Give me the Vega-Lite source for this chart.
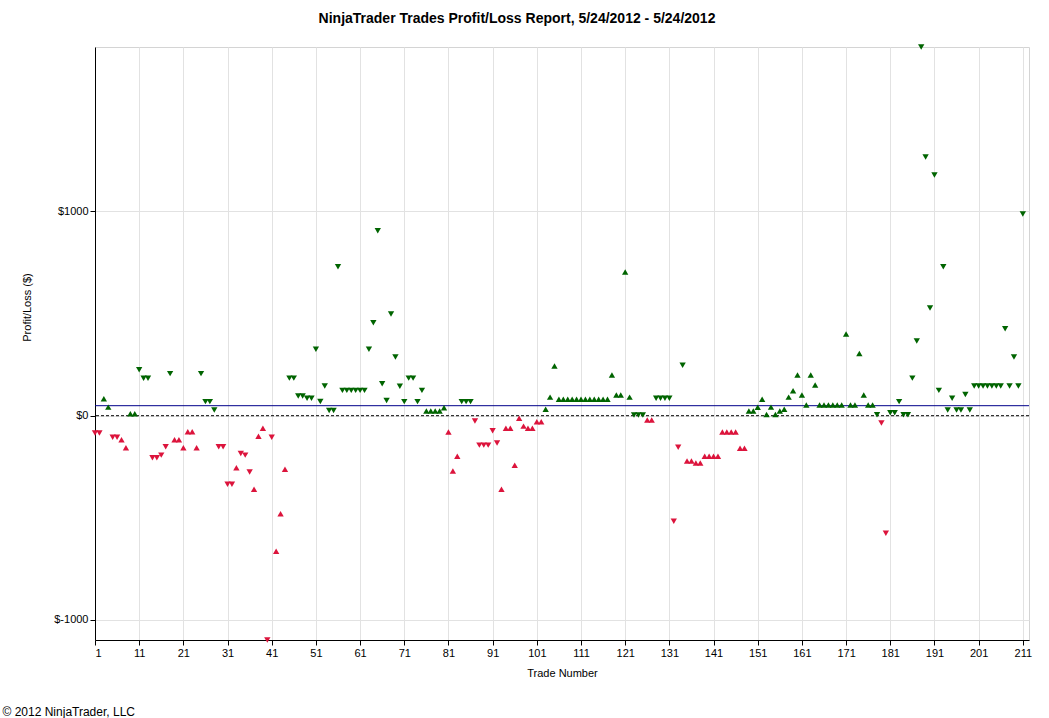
{
  "$schema": "https://vega.github.io/schema/vega-lite/v6.json",
  "width": 934,
  "height": 593,
  "autosize": "none",
  "padding": {"left": 95, "top": 47, "right": 20, "bottom": 78},
  "background": "white",
  "config": {
    "font": "Liberation Sans",
    "view": {"stroke": "#d4d4d4"},
    "axis": {
      "labelFont": "Liberation Sans",
      "labelFontSize": 11,
      "labelColor": "black",
      "titleFont": "Liberation Sans",
      "titleFontSize": 11,
      "titleFontWeight": "normal",
      "titleColor": "black",
      "domainColor": "black",
      "tickColor": "black",
      "tickSize": 5,
      "gridColor": "#e2e2e2"
    }
  },
  "title": {
    "text": "NinjaTrader Trades Profit/Loss Report, 5/24/2012 - 5/24/2012",
    "font": "Liberation Sans",
    "fontSize": 14,
    "fontWeight": "bold",
    "color": "black",
    "anchor": "middle",
    "dx": -45,
    "offset": 18
  },
  "data": {
    "values": [
      {"trade": 1, "side": "Short", "pnl": -85},
      {"trade": 2, "side": "Short", "pnl": -85},
      {"trade": 3, "side": "Long", "pnl": 83},
      {"trade": 4, "side": "Long", "pnl": 42},
      {"trade": 5, "side": "Short", "pnl": -105},
      {"trade": 6, "side": "Short", "pnl": -105},
      {"trade": 7, "side": "Long", "pnl": -118},
      {"trade": 8, "side": "Long", "pnl": -157},
      {"trade": 9, "side": "Long", "pnl": 10},
      {"trade": 10, "side": "Long", "pnl": 10},
      {"trade": 11, "side": "Short", "pnl": 225},
      {"trade": 12, "side": "Short", "pnl": 183},
      {"trade": 13, "side": "Short", "pnl": 183},
      {"trade": 14, "side": "Short", "pnl": -206},
      {"trade": 15, "side": "Short", "pnl": -206},
      {"trade": 16, "side": "Short", "pnl": -193},
      {"trade": 17, "side": "Short", "pnl": -152},
      {"trade": 18, "side": "Short", "pnl": 206},
      {"trade": 19, "side": "Long", "pnl": -118},
      {"trade": 20, "side": "Long", "pnl": -118},
      {"trade": 21, "side": "Long", "pnl": -157},
      {"trade": 22, "side": "Long", "pnl": -78},
      {"trade": 23, "side": "Long", "pnl": -78},
      {"trade": 24, "side": "Long", "pnl": -157},
      {"trade": 25, "side": "Short", "pnl": 206},
      {"trade": 26, "side": "Short", "pnl": 69},
      {"trade": 27, "side": "Short", "pnl": 69},
      {"trade": 28, "side": "Short", "pnl": 28},
      {"trade": 29, "side": "Short", "pnl": -152},
      {"trade": 30, "side": "Short", "pnl": -152},
      {"trade": 31, "side": "Short", "pnl": -335},
      {"trade": 32, "side": "Short", "pnl": -335},
      {"trade": 33, "side": "Long", "pnl": -255},
      {"trade": 34, "side": "Short", "pnl": -185},
      {"trade": 35, "side": "Short", "pnl": -193},
      {"trade": 36, "side": "Short", "pnl": -276},
      {"trade": 37, "side": "Long", "pnl": -360},
      {"trade": 38, "side": "Long", "pnl": -101},
      {"trade": 39, "side": "Long", "pnl": -61},
      {"trade": 40, "side": "Short", "pnl": -1098},
      {"trade": 41, "side": "Short", "pnl": -105},
      {"trade": 42, "side": "Long", "pnl": -664},
      {"trade": 43, "side": "Long", "pnl": -480},
      {"trade": 44, "side": "Long", "pnl": -262},
      {"trade": 45, "side": "Short", "pnl": 184},
      {"trade": 46, "side": "Short", "pnl": 184},
      {"trade": 47, "side": "Short", "pnl": 96},
      {"trade": 48, "side": "Short", "pnl": 96},
      {"trade": 49, "side": "Short", "pnl": 86},
      {"trade": 50, "side": "Short", "pnl": 86},
      {"trade": 51, "side": "Short", "pnl": 325},
      {"trade": 52, "side": "Short", "pnl": 70},
      {"trade": 53, "side": "Short", "pnl": 145},
      {"trade": 54, "side": "Short", "pnl": 26},
      {"trade": 55, "side": "Short", "pnl": 26},
      {"trade": 56, "side": "Short", "pnl": 729},
      {"trade": 57, "side": "Short", "pnl": 124},
      {"trade": 58, "side": "Short", "pnl": 124},
      {"trade": 59, "side": "Short", "pnl": 124},
      {"trade": 60, "side": "Short", "pnl": 124},
      {"trade": 61, "side": "Short", "pnl": 124},
      {"trade": 62, "side": "Short", "pnl": 124},
      {"trade": 63, "side": "Short", "pnl": 325},
      {"trade": 64, "side": "Short", "pnl": 455},
      {"trade": 65, "side": "Short", "pnl": 906},
      {"trade": 66, "side": "Short", "pnl": 157},
      {"trade": 67, "side": "Short", "pnl": 75},
      {"trade": 68, "side": "Short", "pnl": 498},
      {"trade": 69, "side": "Short", "pnl": 287},
      {"trade": 70, "side": "Short", "pnl": 144},
      {"trade": 71, "side": "Short", "pnl": 69},
      {"trade": 72, "side": "Short", "pnl": 184},
      {"trade": 73, "side": "Short", "pnl": 184},
      {"trade": 74, "side": "Short", "pnl": 69},
      {"trade": 75, "side": "Short", "pnl": 124},
      {"trade": 76, "side": "Long", "pnl": 23},
      {"trade": 77, "side": "Long", "pnl": 23},
      {"trade": 78, "side": "Long", "pnl": 23},
      {"trade": 79, "side": "Long", "pnl": 23},
      {"trade": 80, "side": "Long", "pnl": 39},
      {"trade": 81, "side": "Long", "pnl": -80},
      {"trade": 82, "side": "Long", "pnl": -271},
      {"trade": 83, "side": "Long", "pnl": -198},
      {"trade": 84, "side": "Short", "pnl": 69},
      {"trade": 85, "side": "Short", "pnl": 69},
      {"trade": 86, "side": "Short", "pnl": 69},
      {"trade": 87, "side": "Short", "pnl": -26},
      {"trade": 88, "side": "Short", "pnl": -144},
      {"trade": 89, "side": "Short", "pnl": -144},
      {"trade": 90, "side": "Short", "pnl": -144},
      {"trade": 91, "side": "Short", "pnl": -74},
      {"trade": 92, "side": "Short", "pnl": -134},
      {"trade": 93, "side": "Long", "pnl": -360},
      {"trade": 94, "side": "Long", "pnl": -61},
      {"trade": 95, "side": "Long", "pnl": -61},
      {"trade": 96, "side": "Long", "pnl": -242},
      {"trade": 97, "side": "Long", "pnl": -12},
      {"trade": 98, "side": "Long", "pnl": -51},
      {"trade": 99, "side": "Long", "pnl": -61},
      {"trade": 100, "side": "Long", "pnl": -61},
      {"trade": 101, "side": "Long", "pnl": -30},
      {"trade": 102, "side": "Long", "pnl": -30},
      {"trade": 103, "side": "Long", "pnl": 32},
      {"trade": 104, "side": "Long", "pnl": 91},
      {"trade": 105, "side": "Long", "pnl": 243},
      {"trade": 106, "side": "Long", "pnl": 81},
      {"trade": 107, "side": "Long", "pnl": 81},
      {"trade": 108, "side": "Long", "pnl": 81},
      {"trade": 109, "side": "Long", "pnl": 81},
      {"trade": 110, "side": "Long", "pnl": 81},
      {"trade": 111, "side": "Long", "pnl": 81},
      {"trade": 112, "side": "Long", "pnl": 81},
      {"trade": 113, "side": "Long", "pnl": 81},
      {"trade": 114, "side": "Long", "pnl": 81},
      {"trade": 115, "side": "Long", "pnl": 81},
      {"trade": 116, "side": "Long", "pnl": 81},
      {"trade": 117, "side": "Long", "pnl": 81},
      {"trade": 118, "side": "Long", "pnl": 199},
      {"trade": 119, "side": "Long", "pnl": 101},
      {"trade": 120, "side": "Long", "pnl": 101},
      {"trade": 121, "side": "Long", "pnl": 704},
      {"trade": 122, "side": "Long", "pnl": 91},
      {"trade": 123, "side": "Short", "pnl": 3},
      {"trade": 124, "side": "Short", "pnl": 3},
      {"trade": 125, "side": "Short", "pnl": 3},
      {"trade": 126, "side": "Long", "pnl": -21},
      {"trade": 127, "side": "Long", "pnl": -21},
      {"trade": 128, "side": "Short", "pnl": 86},
      {"trade": 129, "side": "Short", "pnl": 86},
      {"trade": 130, "side": "Short", "pnl": 86},
      {"trade": 131, "side": "Short", "pnl": 86},
      {"trade": 132, "side": "Short", "pnl": -517},
      {"trade": 133, "side": "Short", "pnl": -154},
      {"trade": 134, "side": "Short", "pnl": 247},
      {"trade": 135, "side": "Long", "pnl": -222},
      {"trade": 136, "side": "Long", "pnl": -222},
      {"trade": 137, "side": "Long", "pnl": -232},
      {"trade": 138, "side": "Long", "pnl": -232},
      {"trade": 139, "side": "Long", "pnl": -198},
      {"trade": 140, "side": "Long", "pnl": -198},
      {"trade": 141, "side": "Long", "pnl": -198},
      {"trade": 142, "side": "Long", "pnl": -198},
      {"trade": 143, "side": "Long", "pnl": -80},
      {"trade": 144, "side": "Long", "pnl": -80},
      {"trade": 145, "side": "Long", "pnl": -80},
      {"trade": 146, "side": "Long", "pnl": -80},
      {"trade": 147, "side": "Long", "pnl": -159},
      {"trade": 148, "side": "Long", "pnl": -159},
      {"trade": 149, "side": "Long", "pnl": 23},
      {"trade": 150, "side": "Long", "pnl": 23},
      {"trade": 151, "side": "Long", "pnl": 41},
      {"trade": 152, "side": "Long", "pnl": 81},
      {"trade": 153, "side": "Long", "pnl": 6},
      {"trade": 154, "side": "Long", "pnl": 42},
      {"trade": 155, "side": "Long", "pnl": 6},
      {"trade": 156, "side": "Long", "pnl": 23},
      {"trade": 157, "side": "Long", "pnl": 32},
      {"trade": 158, "side": "Long", "pnl": 91},
      {"trade": 159, "side": "Long", "pnl": 122},
      {"trade": 160, "side": "Long", "pnl": 199},
      {"trade": 161, "side": "Long", "pnl": 101},
      {"trade": 162, "side": "Long", "pnl": 52},
      {"trade": 163, "side": "Long", "pnl": 199},
      {"trade": 164, "side": "Long", "pnl": 150},
      {"trade": 165, "side": "Long", "pnl": 52},
      {"trade": 166, "side": "Long", "pnl": 52},
      {"trade": 167, "side": "Long", "pnl": 52},
      {"trade": 168, "side": "Long", "pnl": 52},
      {"trade": 169, "side": "Long", "pnl": 52},
      {"trade": 170, "side": "Long", "pnl": 52},
      {"trade": 171, "side": "Long", "pnl": 400},
      {"trade": 172, "side": "Long", "pnl": 52},
      {"trade": 173, "side": "Long", "pnl": 52},
      {"trade": 174, "side": "Long", "pnl": 304},
      {"trade": 175, "side": "Long", "pnl": 101},
      {"trade": 176, "side": "Long", "pnl": 52},
      {"trade": 177, "side": "Long", "pnl": 52},
      {"trade": 178, "side": "Short", "pnl": 5},
      {"trade": 179, "side": "Short", "pnl": -36},
      {"trade": 180, "side": "Short", "pnl": -575},
      {"trade": 181, "side": "Short", "pnl": 15},
      {"trade": 182, "side": "Short", "pnl": 15},
      {"trade": 183, "side": "Short", "pnl": 69},
      {"trade": 184, "side": "Short", "pnl": 5},
      {"trade": 185, "side": "Short", "pnl": 5},
      {"trade": 186, "side": "Short", "pnl": 184},
      {"trade": 187, "side": "Short", "pnl": 366},
      {"trade": 188, "side": "Short", "pnl": 1805},
      {"trade": 189, "side": "Short", "pnl": 1266},
      {"trade": 190, "side": "Short", "pnl": 527},
      {"trade": 191, "side": "Short", "pnl": 1178},
      {"trade": 192, "side": "Short", "pnl": 124},
      {"trade": 193, "side": "Short", "pnl": 729},
      {"trade": 194, "side": "Short", "pnl": 28},
      {"trade": 195, "side": "Short", "pnl": 86},
      {"trade": 196, "side": "Short", "pnl": 28},
      {"trade": 197, "side": "Short", "pnl": 28},
      {"trade": 198, "side": "Short", "pnl": 104},
      {"trade": 199, "side": "Short", "pnl": 28},
      {"trade": 200, "side": "Short", "pnl": 145},
      {"trade": 201, "side": "Short", "pnl": 145},
      {"trade": 202, "side": "Short", "pnl": 145},
      {"trade": 203, "side": "Short", "pnl": 145},
      {"trade": 204, "side": "Short", "pnl": 145},
      {"trade": 205, "side": "Short", "pnl": 145},
      {"trade": 206, "side": "Short", "pnl": 145},
      {"trade": 207, "side": "Short", "pnl": 426},
      {"trade": 208, "side": "Short", "pnl": 145},
      {"trade": 209, "side": "Short", "pnl": 287},
      {"trade": 210, "side": "Short", "pnl": 145},
      {"trade": 211, "side": "Short", "pnl": 988}
    ]
  },
  "resolve": {"axis": {"x": "independent"}},
  "layer": [
    {
      "data": {"values": [{"level": 0}]},
      "mark": {"type": "rule", "color": "black", "strokeWidth": 1, "strokeDash": [3, 2]},
      "encoding": {
        "y": {"field": "level", "type": "quantitative", "scale": {"domain": [-1098, 1805], "nice": false, "zero": false}}
      }
    },
    {
      "data": {"values": [{"level": 49}]},
      "mark": {"type": "rule", "color": "#00008B", "strokeWidth": 1},
      "encoding": {
        "y": {"field": "level", "type": "quantitative", "scale": {"domain": [-1098, 1805], "nice": false, "zero": false}}
      }
    },
    {
      "mark": {"type": "point", "filled": true, "opacity": 1, "size": 40, "clip": false},
      "encoding": {
        "x": {
          "field": "trade",
          "type": "quantitative",
          "title": "Trade Number",
          "scale": {"domain": [1, 212.4], "nice": false, "zero": false},
          "axis": {
            "values": [1, 11, 21, 31, 41, 51, 61, 71, 81, 91, 101, 111, 121, 131, 141, 151, 161, 171, 181, 191, 201, 211],
            "grid": true,
            "titleY": 33,
            "titleBaseline": "middle"
          }
        },
        "y": {
          "field": "pnl",
          "type": "quantitative",
          "title": "Profit/Loss ($)",
          "scale": {"domain": [-1098, 1805], "nice": false, "zero": false},
          "axis": {
            "values": [-1000, 0, 1000],
            "labelExpr": "'$' + datum.value",
            "grid": true,
            "titleAngle": -90,
            "titleX": -68,
            "titleY": 260,
            "titleAlign": "center",
            "titleBaseline": "middle"
          }
        },
        "shape": {
          "field": "side",
          "type": "nominal",
          "scale": {"domain": ["Long", "Short"], "range": ["triangle-up", "triangle-down"]},
          "legend": null
        },
        "color": {
          "condition": {"test": "datum.pnl < 0", "value": "#DC143C"},
          "value": "#006400"
        }
      }
    },
    {
      "mark": {"type": "point", "opacity": 0},
      "encoding": {
        "x": {
          "field": "trade",
          "type": "quantitative",
          "scale": {"domain": [1, 212.4], "nice": false, "zero": false},
          "axis": {
            "orient": "top",
            "labels": false,
            "ticks": false,
            "domain": false,
            "grid": false,
            "title": "© 2012 NinjaTrader, LLC",
            "titleFontSize": 12,
            "titleAnchor": "start",
            "titleAlign": "left",
            "titleBaseline": "middle",
            "titleX": -93,
            "titleY": 664
          }
        },
        "y": {"field": "pnl", "type": "quantitative", "scale": {"domain": [-1098, 1805], "nice": false, "zero": false}}
      }
    }
  ]
}
